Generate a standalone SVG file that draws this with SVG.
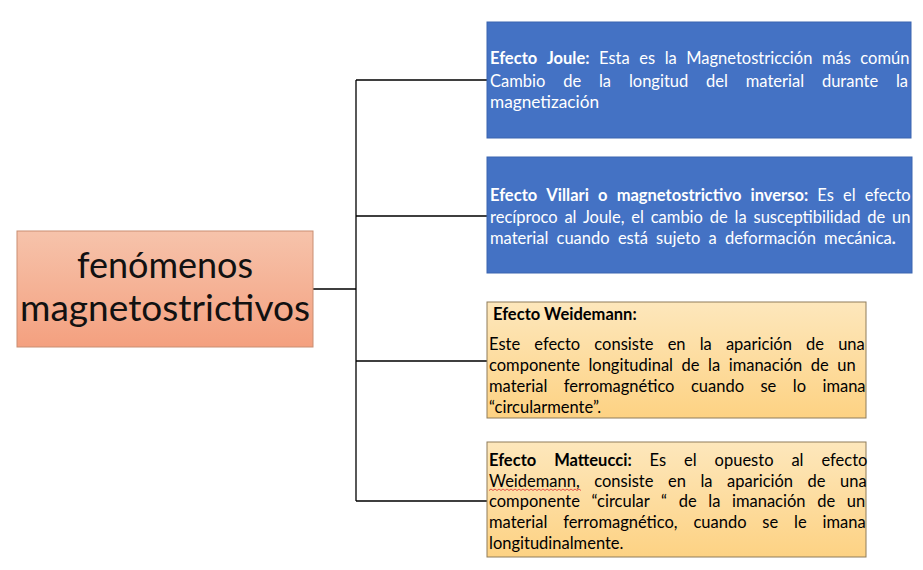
<svg xmlns="http://www.w3.org/2000/svg" width="923" height="570" viewBox="0 0 923 570">
<defs>
<linearGradient id="gOrange" x1="0" y1="0" x2="0" y2="1">
<stop offset="0" stop-color="#f6c3ab"/>
<stop offset="1" stop-color="#f4a07f"/>
</linearGradient>
<linearGradient id="gYellow" x1="0" y1="0" x2="0" y2="1">
<stop offset="0" stop-color="#fde7bc"/>
<stop offset="1" stop-color="#fdd283"/>
</linearGradient>
<style>
.blue{fill:#4472c4;stroke:#3a64b0;stroke-width:1}
.yel{fill:url(#gYellow);stroke:#8f7d5a;stroke-width:1}
.org{fill:url(#gOrange);stroke:#c98e72;stroke-width:1}
.conn{fill:none;stroke:#000;stroke-width:1.3}
.t{font-family:Lato,"Liberation Sans",sans-serif;font-size:16.5px}
.w{fill:#fff}
.k{fill:#000}
.b{font-weight:bold}
.root{font-family:Lato,"Liberation Sans",sans-serif;font-size:36px;fill:#111;text-anchor:middle}
</style>
</defs>
<rect width="923" height="570" fill="#fff"/>
<g id="connectors">
<path class="conn" d="M313 289H356M356 80V501M356 80H487M356 216H487M356 361H487M356 501H487"/>
</g>
<g id="root">
<rect class="org" x="17" y="231" width="296" height="116"/>
<text class="root" x="165" y="278">fenómenos</text>
<text class="root" x="165" y="321" textLength="290" lengthAdjust="spacingAndGlyphs">magnetostrictivos</text>
</g>
<g id="joule">
<rect class="blue" x="487" y="22" width="424" height="116"/>
<text class="t w" x="490" y="64" word-spacing="5.3"><tspan class="b">Efecto</tspan> <tspan class="b">Joule:</tspan> <tspan>Esta</tspan> <tspan>es</tspan> <tspan>la</tspan> <tspan>Magnetostricción</tspan> <tspan>más</tspan> <tspan>común</tspan></text>
<text class="t w" x="490" y="87" word-spacing="13.6"><tspan>Cambio</tspan> <tspan>de</tspan> <tspan>la</tspan> <tspan>longitud</tspan> <tspan>del</tspan> <tspan>material</tspan> <tspan>durante</tspan> <tspan>la</tspan></text>
<text class="t w" x="490" y="108" textLength="109" lengthAdjust="spacingAndGlyphs">magnetización</text>
</g>
<g id="villari">
<rect class="blue" x="487" y="157" width="425" height="116"/>
<text class="t w" x="490" y="201" word-spacing="4.9"><tspan class="b">Efecto</tspan> <tspan class="b">Villari</tspan> <tspan class="b">o</tspan> <tspan class="b">magnetostrictivo</tspan> <tspan class="b">inverso:</tspan> <tspan>Es</tspan> <tspan>el</tspan> <tspan>efecto</tspan></text>
<text class="t w" x="490" y="223" word-spacing="2.6"><tspan>recíproco</tspan> <tspan>al</tspan> <tspan>Joule,</tspan> <tspan>el</tspan> <tspan>cambio</tspan> <tspan>de</tspan> <tspan>la</tspan> <tspan>susceptibilidad</tspan> <tspan>de</tspan> <tspan>un</tspan></text>
<text class="t w" x="490" y="244" word-spacing="4"><tspan>material</tspan> <tspan>cuando</tspan> <tspan>está</tspan> <tspan>sujeto</tspan> <tspan>a</tspan> <tspan>deformación</tspan> <tspan>mecánica</tspan><tspan class="b">.</tspan></text>
</g>
<g id="weidemann">
<rect class="yel" x="487" y="302" width="379" height="116"/>
<text class="t k b" x="493" y="320"><tspan>Efecto</tspan> <tspan>Weidemann:</tspan></text>
<text class="t k" x="489" y="350" word-spacing="9.9"><tspan>Este</tspan> <tspan>efecto</tspan> <tspan>consiste</tspan> <tspan>en</tspan> <tspan>la</tspan> <tspan>aparición</tspan> <tspan>de</tspan> <tspan>una</tspan></text>
<text class="t k" x="489" y="371" word-spacing="4.3"><tspan>componente</tspan> <tspan>longitudinal</tspan> <tspan>de</tspan> <tspan>la</tspan> <tspan>imanación</tspan> <tspan>de</tspan> <tspan>un</tspan></text>
<text class="t k" x="489" y="392" word-spacing="12.2"><tspan>material</tspan> <tspan>ferromagnético</tspan> <tspan>cuando</tspan> <tspan>se</tspan> <tspan>lo</tspan> <tspan>imana</tspan></text>
<text class="t k" x="489" y="413">“circularmente”.</text>
</g>
<g id="matteucci">
<rect class="yel" x="487" y="442" width="379" height="115"/>
<text class="t k" x="489" y="466" word-spacing="13.7"><tspan class="b">Efecto</tspan> <tspan class="b">Matteucci:</tspan> <tspan>Es</tspan> <tspan>el</tspan> <tspan>opuesto</tspan> <tspan>al</tspan> <tspan>efecto</tspan></text>
<text class="t k" x="489" y="487" word-spacing="10.3"><tspan>Weidemann,</tspan> <tspan>consiste</tspan> <tspan>en</tspan> <tspan>la</tspan> <tspan>aparición</tspan> <tspan>de</tspan> <tspan>una</tspan></text>
<path d="M489 490.5l2 -1.5l2 1.5l2 -1.5l2 1.5l2 -1.5l2 1.5l2 -1.5l2 1.5l2 -1.5l2 1.5l2 -1.5l2 1.5l2 -1.5l2 1.5l2 -1.5l2 1.5l2 -1.5l2 1.5l2 -1.5l2 1.5l2 -1.5l2 1.5l2 -1.5l2 1.5l2 -1.5l2 1.5l2 -1.5l2 1.5l2 -1.5l2 1.5l2 -1.5l2 1.5l2 -1.5l2 1.5l2 -1.5l2 1.5l2 -1.5l2 1.5l2 -1.5l2 1.5l2 -1.5l2 1.5l2 -1.5l2 1.5l2 -1.5l2 1.5" fill="none" stroke="#e03030" stroke-width="0.8"/>
<text class="t k" x="489" y="507" word-spacing="7.4"><tspan>componente</tspan> <tspan>“circular</tspan> <tspan>“</tspan> <tspan>de</tspan> <tspan>la</tspan> <tspan>imanación</tspan> <tspan>de</tspan> <tspan>un</tspan></text>
<text class="t k" x="489" y="528" word-spacing="11.6"><tspan>material</tspan> <tspan>ferromagnético,</tspan> <tspan>cuando</tspan> <tspan>se</tspan> <tspan>le</tspan> <tspan>imana</tspan></text>
<text class="t k" x="489" y="549">longitudinalmente.</text>
</g>
</svg>
